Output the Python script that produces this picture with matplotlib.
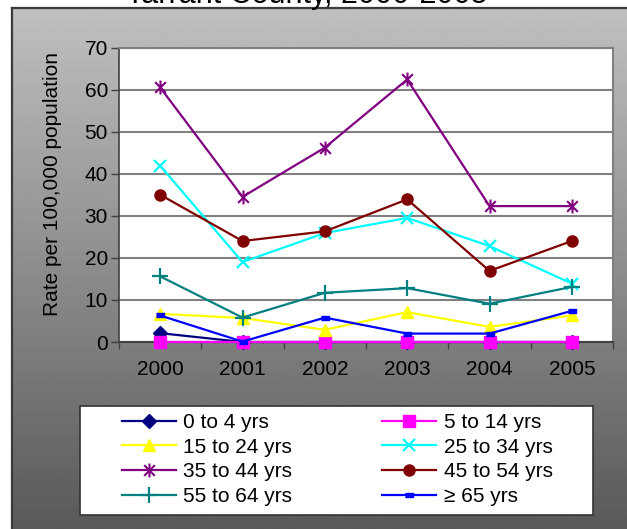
import numpy as np
import matplotlib
matplotlib.use("Agg")
import matplotlib.pyplot as plt
from matplotlib.path import Path
from matplotlib.patches import Rectangle

plt.rcParams['font.family'] = ['Liberation Sans', 'DejaVu Sans']

# data
years = ["2000", "2001", "2002", "2003", "2004", "2005"]
labels = ["0 to 4 yrs", "5 to 14 yrs", "15 to 24 yrs", "25 to 34 yrs",
          "35 to 44 yrs", "45 to 54 yrs", "55 to 64 yrs", "\u2265 65 yrs"]
age_0_4 = [2.1, 0, 0, 0, 0, 0]
age_5_14 = [0, 0, 0, 0, 0, 0]
age_15_24 = [6.7, 5.7, 2.9, 7.1, 3.6, 6.3]
age_25_34 = [41.9, 19.0, 25.9, 29.5, 22.8, 13.9]
age_35_44 = [60.5, 34.5, 46.2, 62.4, 32.3, 32.3]
age_45_54 = [35.0, 24.0, 26.3, 33.9, 16.9, 24.0]
age_55_64 = [15.6, 5.8, 11.7, 12.8, 9.1, 13.1]
age_65_up = [6.3, 0.1, 5.8, 2.0, 2.0, 7.4]
series = [age_0_4, age_5_14, age_15_24, age_25_34,
          age_35_44, age_45_54, age_55_64, age_65_up]

# excel style markers
star = Path([(-1, -1), (1, 1), (-1, 1), (1, -1), (0, -1.3), (0, 1.3)],
            [Path.MOVETO, Path.LINETO, Path.MOVETO, Path.LINETO, Path.MOVETO, Path.LINETO])
dash = [(-1, -0.45), (1, -0.45), (1, 0.45), (-1, 0.45)]

styles = [
    dict(color="#000080", marker="D", ms=7),
    dict(color="#ff00ff", marker="s", ms=8),
    dict(color="#ffff00", marker="^", ms=9),
    dict(color="#00ffff", marker="x", ms=9, mew=1.6),
    dict(color="#800080", marker=star, ms=10, mew=1.5, mfc="none"),
    dict(color="#800000", marker="o", ms=8),
    dict(color="#008080", marker="+", ms=11, mew=1.6),
    dict(color="#0000ff", marker=dash, ms=6),
]

W, H = 627, 529
fig = plt.figure(figsize=(W / 100, H / 100), dpi=100)
fig.patch.set_facecolor("white")

# gradient chart background with frame
bg = fig.add_axes([12 / W, 0, 1 - 12 / W, (H - 8) / H], zorder=0)
grad = np.linspace(0.753, 0.35, 256).reshape(-1, 1)
bg.imshow(grad, cmap="gray", vmin=0, vmax=1, aspect="auto", extent=[0, 1, 0, 1])
bg.set_xticks([])
bg.set_yticks([])
for s in ["bottom", "right"]:
    bg.spines[s].set_visible(False)
for s in ["left", "top"]:
    bg.spines[s].set_color("#3a3a3a")
    bg.spines[s].set_linewidth(1.6)

# title sits mostly above the picture, as in the original
fig.text(307 / W, 1 - 3 / H, "Tarrant County, 2000-2005", ha="center",
         va="baseline", fontsize=22, zorder=5)

ax = fig.add_axes([119 / W, 1 - 342 / H, 494 / W, 294.5 / H], zorder=2)
ax.set_facecolor("white")
x = np.arange(len(years))
handles = []
for i, (vals, lab, st) in enumerate(zip(series, labels, styles)):
    h, = ax.plot(x, vals, lw=1.6, label=lab, clip_on=False, zorder=3 + i,
                 mec=st["color"], **st)
    handles.append(h)

ax.set_xlim(-0.5, 5.5)
ax.set_ylim(0, 70)
ax.set_yticks(range(0, 71, 10))
ax.set_xticks(x)
ax.set_xticklabels(years)
ax.set_xticks(np.arange(-0.5, 6, 1), minor=True)
ax.tick_params(axis="x", which="major", length=0, pad=13, labelsize=15)
ax.tick_params(axis="x", which="minor", length=5, width=1, color="#404040", direction="out")
ax.tick_params(axis="y", length=6, width=1, color="#404040", pad=2, labelsize=15)
ax.yaxis.grid(True, color="#808080", lw=1.5)
ax.set_axisbelow(True)
for s in ["top", "right"]:
    ax.spines[s].set_color("#808080")
    ax.spines[s].set_linewidth(1.5)
ax.spines["left"].set_color("#404040")
ax.spines["bottom"].set_color("#404040")
ax.spines["left"].set_linewidth(1.2)
ax.spines["bottom"].set_linewidth(1.5)
ax.set_ylabel("Rate per 100,000 population", fontsize=15, va="center")
ax.yaxis.set_label_coords(-0.135, 0.537)

# legend box
fig.patches.append(Rectangle((80 / W, 1 - 515 / H), 513 / W, 109 / H,
                             transform=fig.transFigure, facecolor="white",
                             edgecolor="#333333", lw=1.2, zorder=3))
order = [0, 2, 4, 6, 1, 3, 5, 7]
leg = fig.legend([handles[i] for i in order], [labels[i] for i in order],
                 ncol=2, loc="upper left", bbox_to_anchor=(122 / W, 1 - 413 / H),
                 frameon=False, fontsize=15, handlelength=2.6, handletextpad=0.35,
                 columnspacing=4.3, labelspacing=0.27, borderpad=0, borderaxespad=0)
leg.set_zorder(4)

fig.savefig("out.png", dpi=100)
